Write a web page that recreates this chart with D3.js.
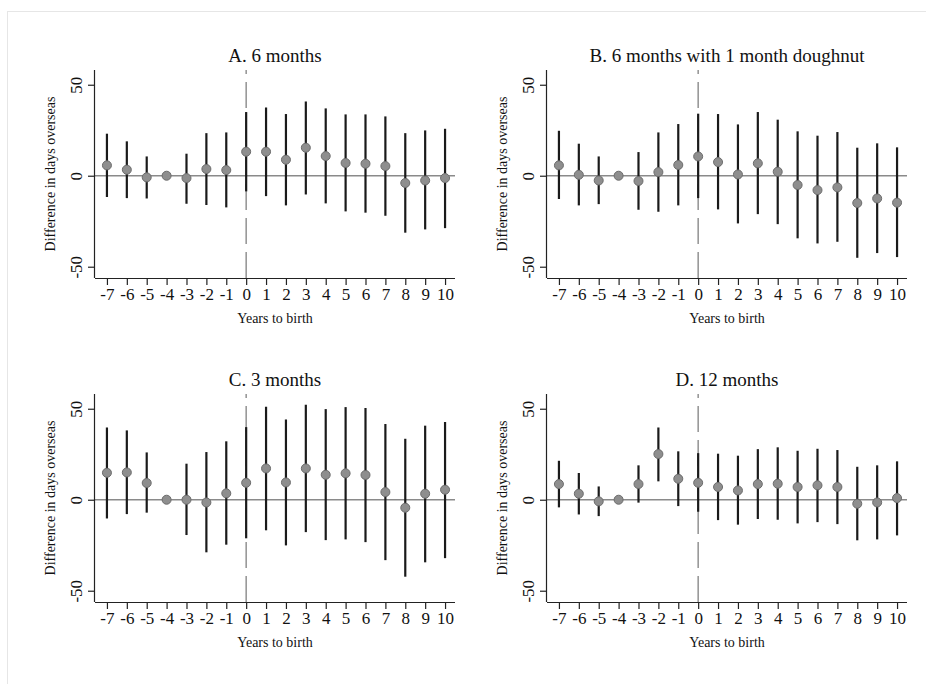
<!DOCTYPE html>
<html>
<head>
<meta charset="utf-8">
<script src="https://cdn.jsdelivr.net/npm/d3@7"></script>
<style>
  html, body { margin: 0; padding: 0; background: #fff; }
  svg { display: block; }
  text { font-family: "Liberation Serif", "Times New Roman", serif; fill: #111; }
</style>
</head>
<body>
<svg id="chart" width="926" height="684"></svg>
<script>
// Event-time grid (years relative to birth); -4 is the omitted reference year
const years = [-7, -6, -5, -4, -3, -2, -1, 0, 1, 2, 3, 4, 5, 6, 7, 8, 9, 10];
const xTickLabels = years.map(String);
const yTicks = [-50, 0, 50];
const yTickLabels = ["-50", "0", "50"];

// A. 6 months
const estA = [5.7, 3.3, -0.9, 0, -1.3, 3.7, 3.1, 13.2, 13.2, 8.8, 15.4, 10.8, 7.0, 6.6, 5.3, -4.0, -2.6, -1.3];
const loA  = [-11.7, -12.3, -12.5, null, -15.4, -16.1, -17.4, -8.6, -11.2, -16.3, -10.3, -15.2, -19.6, -20.3, -22.0, -31.3, -29.5, -28.8];
const hiA  = [23.1, 18.9, 10.6, null, 12.1, 23.4, 23.8, 35.0, 37.5, 33.9, 40.8, 37.0, 33.7, 33.7, 32.6, 23.4, 24.9, 25.8];

// B. 6 months with 1 month doughnut
const estB = [5.7, 0.5, -2.6, 0, -2.9, 2.0, 5.9, 10.6, 7.5, 0.7, 6.8, 2.2, -5.1, -7.9, -6.4, -15.0, -12.5, -14.8];
const loB  = [-12.8, -16.3, -15.6, null, -18.7, -19.8, -16.3, -12.3, -18.5, -26.2, -21.1, -26.6, -34.4, -37.2, -36.3, -45.1, -42.5, -44.7];
const hiB  = [24.7, 17.6, 10.6, null, 13.0, 23.8, 28.4, 34.1, 33.9, 28.2, 35.0, 30.8, 24.4, 22.0, 24.0, 15.4, 17.8, 15.6];

// C. 3 months
const estC = [14.8, 15.0, 9.2, 0, 0, -1.5, 3.5, 9.3, 17.2, 9.5, 17.2, 13.7, 14.5, 13.6, 4.2, -4.4, 3.3, 5.5];
const loC  = [-10.3, -7.9, -7.1, null, -19.4, -28.9, -24.7, -21.2, -16.8, -25.1, -17.8, -22.2, -21.8, -23.3, -33.2, -42.3, -34.4, -32.1];
const hiC  = [39.7, 38.1, 26.0, null, 19.8, 26.2, 32.1, 39.9, 51.1, 44.1, 52.2, 49.8, 50.9, 50.4, 41.6, 33.5, 40.7, 42.7];

// D. 12 months
const estD = [8.6, 3.3, -0.9, 0, 8.6, 25.1, 11.5, 9.3, 7.0, 5.1, 8.6, 8.8, 7.0, 7.9, 7.0, -2.2, -1.5, 0.9];
const loD  = [-4.2, -8.1, -9.0, null, -1.6, 10.1, -3.5, -6.6, -11.2, -13.7, -10.6, -11.0, -13.0, -12.3, -13.4, -22.3, -21.8, -19.6];
const hiD  = [21.4, 14.7, 7.3, null, 18.9, 39.7, 26.6, 25.6, 25.3, 24.2, 27.8, 28.8, 26.9, 28.0, 27.3, 18.1, 18.9, 21.1];

const panelTitles = ["A. 6 months", "B. 6 months with 1 month doughnut", "C. 3 months", "D. 12 months"];
const xTitle = "Years to birth";
const yTitle = "Difference in days overseas";

const panels = [
  { title: panelTitles[0], est: estA, lo: loA, hi: hiA, left: 95,  top: 70 },
  { title: panelTitles[1], est: estB, lo: loB, hi: hiB, left: 547, top: 70 },
  { title: panelTitles[2], est: estC, lo: loC, hi: hiC, left: 95,  top: 394 },
  { title: panelTitles[3], est: estD, lo: loD, hi: hiD, left: 547, top: 394 }
];

const svg = d3.select("#chart");

// outer graph frame
svg.append("rect")
  .attr("x", 7.5).attr("y", 11.5)
  .attr("width", 940).attr("height", 700)
  .attr("fill", "#fff")
  .attr("stroke", "#e6e6e6")
  .attr("stroke-width", 1);

const W = 360, H = 208;

panels.forEach(p => {
  const g = svg.append("g").attr("transform", `translate(${p.left},${p.top})`);

  const x = d3.scaleLinear().domain([-7.6, 10.5]).range([0, W]);
  const y = d3.scaleLinear().domain([-56.2, 58.1]).range([H, 0]);

  // zero reference line
  g.append("line")
    .attr("x1", 0).attr("x2", W)
    .attr("y1", y(0)).attr("y2", y(0))
    .attr("stroke", "#8a8a8a").attr("stroke-width", 1.5);

  // birth-year marker
  g.append("line")
    .attr("x1", x(0)).attr("x2", x(0))
    .attr("y1", 0).attr("y2", H)
    .attr("stroke", "#8a8a8a").attr("stroke-width", 1.4)
    .attr("stroke-dasharray", "26,8")
    .attr("stroke-dashoffset", 22);

  const rows = years.map((yr, i) => ({ yr, est: p.est[i], lo: p.lo[i], hi: p.hi[i] }));

  // confidence intervals
  g.selectAll("line.ci")
    .data(rows.filter(d => d.lo !== null))
    .join("line")
    .attr("class", "ci")
    .attr("x1", d => x(d.yr)).attr("x2", d => x(d.yr))
    .attr("y1", d => y(d.lo)).attr("y2", d => y(d.hi))
    .attr("stroke", "#1a1a1a").attr("stroke-width", 2.2);

  // point estimates
  g.selectAll("circle.pt")
    .data(rows)
    .join("circle")
    .attr("class", "pt")
    .attr("cx", d => x(d.yr)).attr("cy", d => y(d.est))
    .attr("r", 4.5)
    .attr("fill", "#8e8e8e")
    .attr("stroke", "#6c6c6c")
    .attr("stroke-width", 1);

  // x axis
  const xAxis = d3.axisBottom(x)
    .tickValues(years)
    .tickFormat((d, i) => xTickLabels[i])
    .tickSize(7)
    .tickPadding(3);
  const gx = g.append("g").attr("transform", `translate(0,${H})`).call(xAxis);
  gx.select(".domain").attr("d", `M0,0.5H${W}`).attr("stroke", "#222").attr("stroke-width", 1.2);
  gx.selectAll(".tick line").attr("stroke", "#222").attr("stroke-width", 1.2);
  gx.selectAll(".tick text")
    .style("font-family", '"Liberation Serif", serif')
    .style("font-size", "17px").attr("fill", "#111");

  // y axis, labels turned to read upward
  const yAxis = d3.axisLeft(y)
    .tickValues(yTicks)
    .tickFormat((d, i) => yTickLabels[i])
    .tickSize(7)
    .tickPadding(2);
  const gy = g.append("g").call(yAxis);
  gy.select(".domain").attr("d", `M-0.5,0V${H}`).attr("stroke", "#222").attr("stroke-width", 1.2);
  gy.selectAll(".tick line").attr("stroke", "#222").attr("stroke-width", 1.2);
  gy.selectAll(".tick text")
    .attr("x", null).attr("dy", null)
    .attr("text-anchor", "middle")
    .attr("transform", "translate(-13,0) rotate(-90)")
    .style("font-family", '"Liberation Serif", serif')
    .style("font-size", "17px").attr("fill", "#111");

  // panel title
  g.append("text")
    .attr("x", W / 2).attr("y", -8.5)
    .attr("text-anchor", "middle")
    .style("font-size", "19px")
    .text(p.title);

  // axis titles
  g.append("text")
    .attr("x", W / 2).attr("y", H + 45)
    .attr("text-anchor", "middle")
    .style("font-size", "14px")
    .text(xTitle);

  g.append("text")
    .attr("transform", `translate(-40,${H / 2}) rotate(-90)`)
    .attr("text-anchor", "middle")
    .style("font-size", "14px")
    .text(yTitle);
});
</script>
</body>
</html>
